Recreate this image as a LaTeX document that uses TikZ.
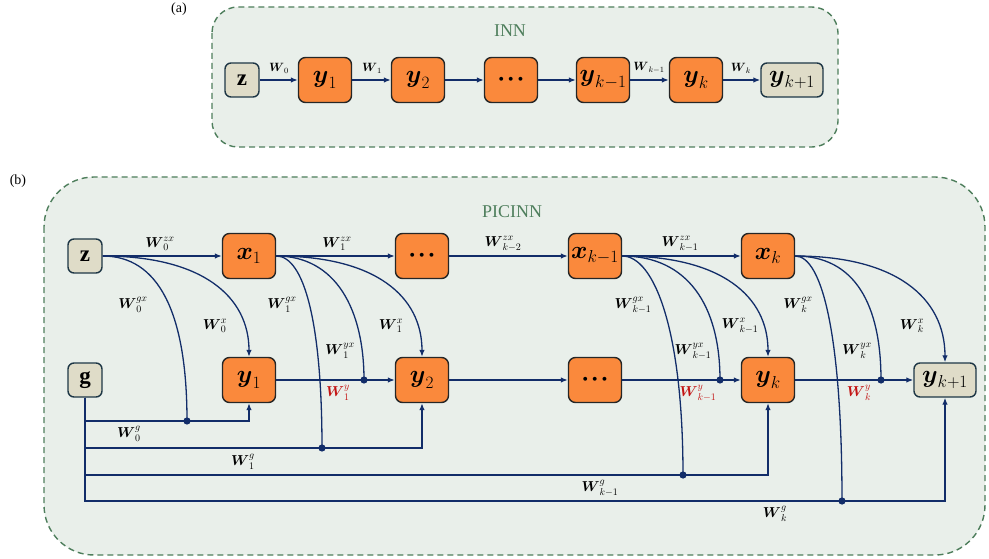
\documentclass[tikz,border=0pt]{standalone}
\usepackage{amsmath}
\usepackage{fontspec}
\setmainfont{Liberation Serif}
\usetikzlibrary{shapes, arrows.meta}

\definecolor{panelbg}{RGB}{233,239,234}
\definecolor{panelline}{RGB}{78,126,92}
\definecolor{cellorange}{RGB}{250,137,60}
\definecolor{cellinput}{RGB}{223,220,200}
\definecolor{inputline}{RGB}{30,55,70}
\definecolor{navy}{RGB}{18,45,105}
\definecolor{wred}{RGB}{195,20,20}

\tikzstyle{panel} = [draw=panelline, fill=panelbg, dashed, dash pattern=on 6pt off 4pt, line width=1.4pt]
\tikzstyle{title} = [text=panelline, font=\fontsize{18}{20}\selectfont]
\tikzstyle{tag} = [font=\fontsize{14}{16}\selectfont]
\tikzstyle{cell} = [draw=black!85, fill=cellorange, rounded corners=7pt, line width=1.4pt, minimum width=53pt, minimum height=45pt, inner sep=1pt]
\tikzstyle{input} = [draw=inputline, fill=cellinput, rounded corners=6pt, line width=1.4pt, minimum width=34pt, minimum height=34pt, inner sep=1pt]
\tikzstyle{link} = [navy, line width=1.3pt]
\tikzstyle{arrow} = [link, -{Latex[length=7pt,width=5.5pt]}]
\tikzstyle{wlab} = [inner sep=0pt, font=\fontsize{14}{16}\selectfont]
\tikzstyle{wlaba} = [inner sep=0pt, font=\fontsize{12}{14}\selectfont]

\newcommand{\celldots}{$\boldsymbol{\cdot\!\cdot\!\cdot}$}

\begin{document}
\begin{tikzpicture}[x=1pt, y=-1pt]
\useasboundingbox (0,0) rectangle (989,559);

% (a) INN
\draw[panel, rounded corners=26pt] (212,7) rectangle (838,147);
\node[tag] (taga) at (179,9) {(a)};
\node[title] (inn) at (510,31) {INN};

\begin{scope}[every node/.append style={font=\fontsize{23}{25}\selectfont}]
\node[input] (az) at (242,80) {$\mathbf{z}$};
\node[cell] (ay1) at (325,80) {$\boldsymbol{y}_1$};
\node[cell] (ay2) at (418,80) {$\boldsymbol{y}_2$};
\node[cell] (adots) at (511,80) {\celldots};
\node[cell] (aykm) at (603,80) {$\boldsymbol{y}_{k-1}$};
\node[cell] (ayk) at (696,80) {$\boldsymbol{y}_k$};
\node[input, minimum width=62pt] (aykp) at (792,80) {$\boldsymbol{y}_{k+1}$};
\end{scope}

\draw[arrow] (az) -- (ay1);
\draw[arrow] (ay1) -- (ay2);
\draw[arrow] (ay2) -- (adots);
\draw[arrow] (adots) -- (aykm);
\draw[arrow] (aykm) -- (ayk);
\draw[arrow] (ayk) -- (aykp);

\node[wlaba] (aw0) at (279,68) {$\boldsymbol{W}_0$};
\node[wlaba] (aw1) at (372,68) {$\boldsymbol{W}_1$};
\node[wlaba] (awkm) at (649,68) {$\boldsymbol{W}_{k-1}$};
\node[wlaba] (awk) at (741,68) {$\boldsymbol{W}_k$};

% (b) PICINN
\draw[panel, rounded corners=50pt] (44,177) rectangle (985,555);
\node[tag] (tagb) at (18,181) {(b)};
\node[title] (picinn) at (512,212) {PICINN};

\begin{scope}[every node/.append style={font=\fontsize{23}{25}\selectfont}]
\node[input] (z) at (85,256) {$\mathbf{z}$};
\node[input] (g) at (85,380) {$\mathbf{g}$};
\node[cell] (x1) at (249,256) {$\boldsymbol{x}_1$};
\node[cell] (xdots) at (422,256) {\celldots};
\node[cell] (xkm) at (595,256) {$\boldsymbol{x}_{k-1}$};
\node[cell] (xk) at (768,256) {$\boldsymbol{x}_k$};
\node[cell] (y1) at (249,380) {$\boldsymbol{y}_1$};
\node[cell] (y2) at (422,380) {$\boldsymbol{y}_2$};
\node[cell] (ydots) at (595,380) {\celldots};
\node[cell] (yk) at (768,380) {$\boldsymbol{y}_k$};
\node[input, minimum width=62pt] (ykp) at (945,380) {$\boldsymbol{y}_{k+1}$};
\end{scope}

% joints
\coordinate (j0g) at (187,421);
\coordinate (j1g) at (322,448);
\coordinate (j1y) at (364,380);
\coordinate (jkmg) at (683,475);
\coordinate (jkmy) at (720,380);
\coordinate (jkg) at (842,501);
\coordinate (jky) at (881,380);

% x chain
\draw[arrow] (z) -- (x1);
\draw[arrow] (x1) -- (xdots);
\draw[arrow] (xdots) -- (xkm);
\draw[arrow] (xkm) -- (xk);

% y chain
\draw[arrow] (y1) -- (y2);
\draw[arrow] (y2) -- (ydots);
\draw[arrow] (ydots) -- (yk);
\draw[arrow] (yk) -- (ykp);

% curves from z and x
\draw[link] (z.east) .. controls +(55,0) and +(0,-110) .. (j0g);
\draw[arrow] (z.east) .. controls +(100,0) and +(0,-60) .. (y1.north);
\draw[link] (x1.east) .. controls +(28,0) and +(0,-125) .. (j1g);
\draw[link] (x1.east) .. controls +(60,0) and +(0,-70) .. (j1y);
\draw[arrow] (x1.east) .. controls +(100,0) and +(0,-60) .. (y2.north);
\draw[link] (xkm.east) .. controls +(32,0) and +(0,-145) .. (jkmg);
\draw[link] (xkm.east) .. controls +(65,0) and +(0,-75) .. (jkmy);
\draw[arrow] (xkm.east) .. controls +(100,0) and +(0,-60) .. (yk.north);
\draw[link] (xk.east) .. controls +(28,0) and +(0,-160) .. (jkg);
\draw[link] (xk.east) .. controls +(60,0) and +(0,-75) .. (jky);
\draw[arrow] (xk.east) .. controls +(100,0) and +(0,-65) .. (ykp.north);

% lines from g
\draw[arrow] (g.south) |- (j0g) -| (y1.south);
\draw[arrow] (g.south) |- (j1g) -| (y2.south);
\draw[arrow] (g.south) |- (jkmg) -| (yk.south);
\draw[arrow] (g.south) |- (jkg) -| (ykp.south);

\foreach \j in {j0g,j1g,j1y,jkmg,jkmy,jkg,jky}
  \fill[navy] (\j) circle (3.6);

% weights
\node[wlab] (w0zx) at (160,244) {$\boldsymbol{W}_0^{zx}$};
\node[wlab] (w1zx) at (337,244) {$\boldsymbol{W}_1^{zx}$};
\node[wlab] (wkmmzx) at (503,244) {$\boldsymbol{W}_{k-2}^{zx}$};
\node[wlab] (wkmzx) at (680,244) {$\boldsymbol{W}_{k-1}^{zx}$};

\node[wlab] (w0gx) at (133,305) {$\boldsymbol{W}_0^{gx}$};
\node[wlab] (w0x) at (215,326) {$\boldsymbol{W}_0^{x}$};
\node[wlab] (w1gx) at (282,305) {$\boldsymbol{W}_1^{gx}$};
\node[wlab] (w1yx) at (340,351) {$\boldsymbol{W}_1^{yx}$};
\node[wlab] (w1x) at (391,326) {$\boldsymbol{W}_1^{x}$};
\node[wlab] (wkmgx) at (633,305) {$\boldsymbol{W}_{k-1}^{gx}$};
\node[wlab] (wkmyx) at (693,351) {$\boldsymbol{W}_{k-1}^{yx}$};
\node[wlab] (wkmx) at (740,326) {$\boldsymbol{W}_{k-1}^{x}$};
\node[wlab] (wkgx) at (798,305) {$\boldsymbol{W}_k^{gx}$};
\node[wlab] (wkyx) at (857,351) {$\boldsymbol{W}_k^{yx}$};
\node[wlab] (wkx) at (912,326) {$\boldsymbol{W}_k^{x}$};

\node[wlab, text=wred] (w1y) at (338,393) {$\boldsymbol{W}_1^{y}$};
\node[wlab, text=wred] (wkmy) at (698,393) {$\boldsymbol{W}_{k-1}^{y}$};
\node[wlab, text=wred] (wky) at (859,393) {$\boldsymbol{W}_k^{y}$};

\node[wlab] (w0g) at (129,434) {$\boldsymbol{W}_0^{g}$};
\node[wlab] (w1g) at (243,462) {$\boldsymbol{W}_1^{g}$};
\node[wlab] (wkmg) at (600,488) {$\boldsymbol{W}_{k-1}^{g}$};
\node[wlab] (wkg) at (775,514) {$\boldsymbol{W}_k^{g}$};

\end{tikzpicture}
\end{document}
